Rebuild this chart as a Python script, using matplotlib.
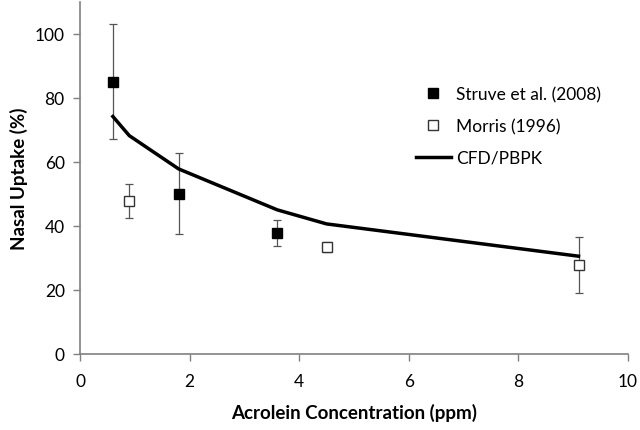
import matplotlib.pyplot as plt
import numpy as np

# Struve et al. (2008)
struve_x = [0.6, 1.8, 3.6]
struve_y = [85.0, 50.0, 37.7]
struve_err = [18.0, 12.7, 4.0]

# Morris (1996)
morris_x = [0.9, 4.5, 9.1]
morris_y = [47.8, 33.4, 27.7]
morris_err = [5.4, 1.5, 8.7]

# CFD/PBPK model
cfd_x = [0.6, 0.9, 1.8, 3.6, 4.5, 9.1]
cfd_y = [74.2, 68.2, 57.8, 45.0, 40.6, 30.5]

plt.rcParams['font.family'] = ['Lato', 'DejaVu Sans']

fig = plt.figure(figsize=(6.4, 4.31), dpi=100)
ax = fig.add_axes([0.125, 0.177, 0.856, 0.816])

ax.errorbar(struve_x, struve_y, yerr=struve_err, fmt='none', ecolor='#555555',
            elinewidth=0.9, capsize=3, capthick=0.9, zorder=2)
ax.errorbar(morris_x, morris_y, yerr=morris_err, fmt='none', ecolor='#555555',
            elinewidth=0.9, capsize=3, capthick=0.9, zorder=2)
ax.plot(cfd_x, cfd_y, color='black', lw=2.5, zorder=3, label='CFD/PBPK')
ax.plot(struve_x, struve_y, 's', color='black', ms=7.5, zorder=4,
        label='Struve et al. (2008)')
ax.plot(morris_x, morris_y, 's', mfc='white', mec='#333333', mew=1, ms=7.5,
        zorder=4, label='Morris (1996)')

ax.set_xlim(0, 10)
ax.set_ylim(0, 110)
ax.set_xticks(np.arange(0, 11, 2))
ax.set_yticks(np.arange(0, 101, 20))
ax.tick_params(labelsize=12.5, color='#808080', length=5, width=1)
ax.tick_params(axis='x', pad=9)
ax.tick_params(axis='y', pad=6)
for side in ['top', 'right']:
    ax.spines[side].set_visible(False)
for side in ['left', 'bottom']:
    ax.spines[side].set_color('#808080')
    ax.spines[side].set_linewidth(1.2)

ax.set_xlabel('Acrolein Concentration (ppm)', fontsize=13.5, fontweight='bold', labelpad=10)
ax.set_ylabel('Nasal Uptake (%)', fontsize=13.5, fontweight='bold', labelpad=5)

handles, labels = ax.get_legend_handles_labels()
order = [1, 2, 0]
ax.legend([handles[i] for i in order], [labels[i] for i in order],
          loc='upper left', bbox_to_anchor=(0.585, 0.805), frameon=False,
          fontsize=12.5, handlelength=2.0, handletextpad=0.3, labelspacing=0.9)

fig.savefig('out.png', dpi=100)
